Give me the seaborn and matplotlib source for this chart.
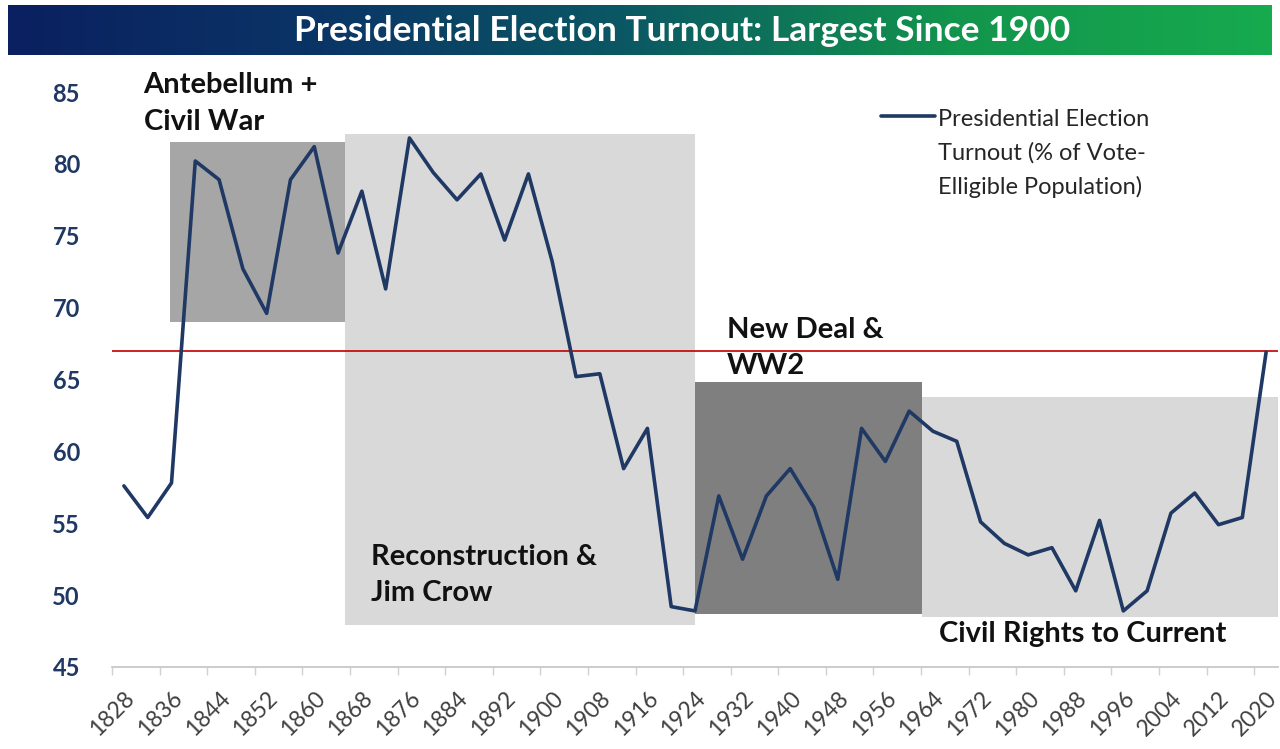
"""
Presidential election turnout since 1828, with historical eras shaded.
"""

import numpy as np
import pandas as pd
import matplotlib.pyplot as plt
from matplotlib.colors import LinearSegmentedColormap
import seaborn as sns

sns.set_theme(style="white")
plt.rcParams["font.family"] = ["Lato", "DejaVu Sans"]

# ── Data ─────────────────────────────────────────────────────────────────────
years = list(range(1828, 2021, 4))
turnout = [57.6, 55.4, 57.8, 80.2, 78.9, 72.7, 69.6, 78.9, 81.2, 73.8,
           78.1, 71.3, 81.8, 79.4, 77.5, 79.3, 74.7, 79.3, 73.2, 65.2,
           65.4, 58.8, 61.6, 49.2, 48.9, 56.9, 52.5, 56.9, 58.8, 56.1,
           51.1, 61.6, 59.3, 62.8, 61.4, 60.7, 55.1, 53.6, 52.8, 53.3,
           50.3, 55.2, 48.9, 50.3, 55.7, 57.1, 54.9, 55.4, 66.9]
tick_years = list(range(1828, 2021, 8))
current_level = 67.0

series_label = "Presidential Election\nTurnout (% of Vote-\nElligible Population)"
era_names = ["Antebellum +\nCivil War", "Reconstruction &\nJim Crow",
             "New Deal &\nWW2", "Civil Rights to Current"]

df = pd.DataFrame({"year": years, "turnout": turnout})

# ── Layout ───────────────────────────────────────────────────────────────────
# era boxes: (x0, x1, y0, y1, colour)
eras = [
    (1835.7, 1865.2, 69.0, 81.5, "#a6a6a6"),
    (1865.2, 1924.0, 47.9, 82.1, "#d9d9d9"),
    (1924.0, 1962.2, 48.7, 64.8, "#7f7f7f"),
    (1962.2, 2022.0, 48.5, 63.8, "#d9d9d9"),
]
era_text_pos = [(1831.3, 84.2), (1869.6, 51.4), (1929.4, 67.2), (1965.0, 47.3)]

fig = plt.figure(figsize=(12.8, 7.49), dpi=100)
ax = fig.add_axes([112 / 1280, 1 - 667 / 749, 1166 / 1280, 575 / 749])

for x0, x1, y0, y1, c in eras:
    ax.fill_between([x0, x1], y0, y1, color=c, linewidth=0, zorder=1)

ax.axhline(current_level, color="#c00000", linewidth=1.2, zorder=2)

sns.lineplot(data=df, x="year", y="turnout", ax=ax, color="#1f3864",
             linewidth=2.6, label=series_label, zorder=3)

for name, (tx, ty) in zip(era_names, era_text_pos):
    ax.text(tx, ty, name, fontsize=21, fontweight="bold", color="#111111",
            ha="left", va="center", linespacing=1.5, zorder=4, clip_on=False)

ax.set_xlim(1826, 2022)
ax.set_ylim(45, 85)
ax.set_yticks(range(45, 86, 5))
ax.set_yticklabels([str(v) for v in range(45, 86, 5)], fontsize=17,
                   fontweight="bold", color="#1f3864")
ax.tick_params(axis="y", length=0, pad=23)

# labels sit on the category centres, tick marks on the boundaries
ax.set_xticks(tick_years)
ax.set_xticklabels([str(y) for y in tick_years], rotation=45, ha="right",
                   rotation_mode="anchor", fontsize=16.5, color="#404040")
ax.set_xticks([y - 2 for y in tick_years], minor=True)
ax.tick_params(axis="x", which="major", length=0, pad=15, bottom=True)
ax.tick_params(axis="x", which="minor", length=6, width=1, color="#d0d0d0",
               direction="out", bottom=True)
ax.set_xlabel("")
ax.set_ylabel("")
for s in ["left", "right", "top"]:
    ax.spines[s].set_visible(False)
ax.spines["bottom"].set_color("#c8c8c8")
ax.spines["bottom"].set_linewidth(1.3)
ax.patch.set_alpha(0)

leg = ax.legend(loc="upper left", bbox_to_anchor=(0.6595, 0.971), frameon=False,
                fontsize=17, handlelength=2.3, handletextpad=0.12,
                borderpad=0, borderaxespad=0)
for t in leg.get_texts():
    t.set_linespacing(1.7)
    t.set_color("#262626")
# put the legend line next to the first text line
for ln in leg.get_lines():
    ln.set_ydata(np.asarray(ln.get_ydata()) + 27)

# ── Title bar ────────────────────────────────────────────────────────────────
tax = fig.add_axes([8 / 1280, 1 - 55 / 749, 1264 / 1280, 50 / 749])
cmap = LinearSegmentedColormap.from_list(
    "bar", ["#0a2060", "#0a3566", "#0b5a63", "#12954c", "#17aa4f"])
tax.imshow(np.linspace(0, 1, 512).reshape(1, -1), aspect="auto", cmap=cmap,
           extent=[0, 1, 0, 1])
tax.set_axis_off()
tax.text(0.533, 0.48, "Presidential Election Turnout: Largest Since 1900",
         color="white", fontsize=25.5, fontweight="bold", ha="center",
         va="center", transform=tax.transAxes)

fig.savefig("out.png", dpi=100)
